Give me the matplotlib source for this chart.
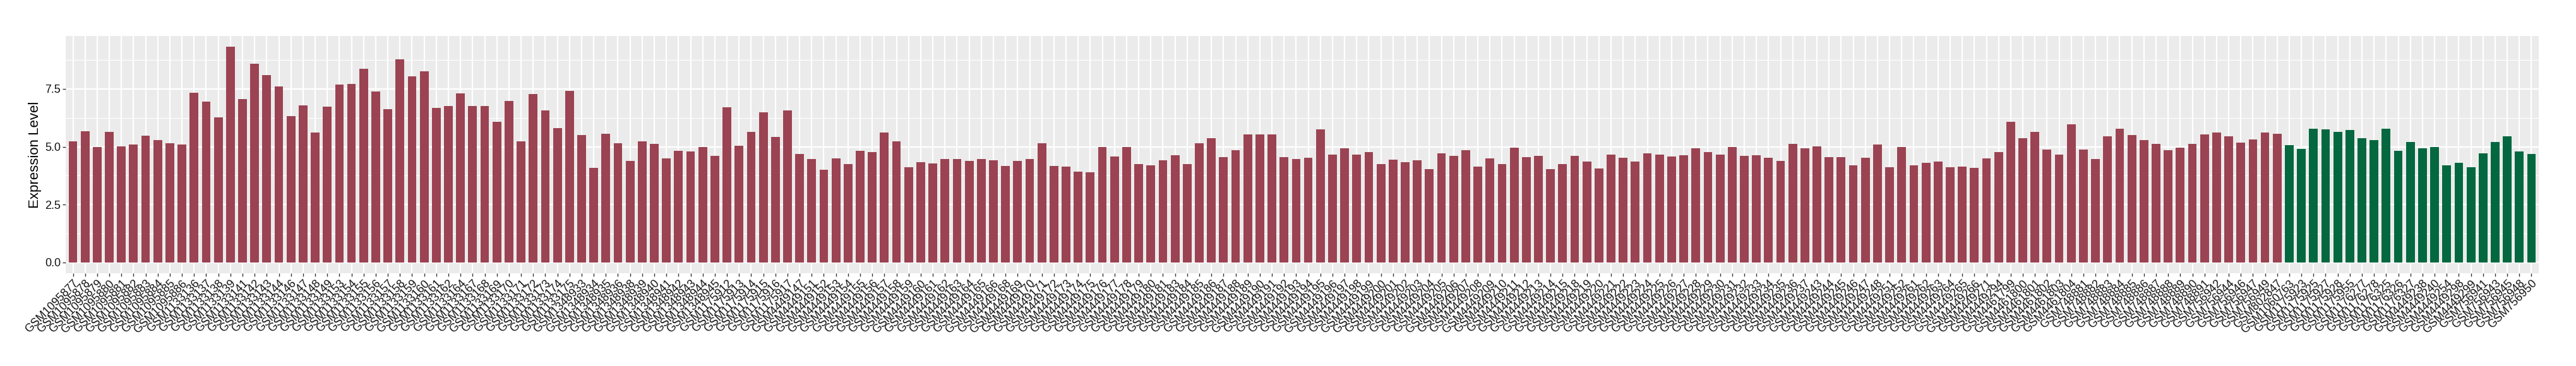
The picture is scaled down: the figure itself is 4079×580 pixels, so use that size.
import matplotlib
matplotlib.use("Agg")
import matplotlib.pyplot as plt
import numpy as np
from matplotlib.ticker import MultipleLocator

plt.rcParams['font.family'] = ['Liberation Sans', 'DejaVu Sans']

# sample ids (x categories), in plotted order
tumor_samples = [
    "GSM1095877", "GSM1095878", "GSM1095879", "GSM1095880", "GSM1095881",
    "GSM1095882", "GSM1095883", "GSM1095884", "GSM1095885", "GSM1095886",
    "GSM1133136", "GSM1133137", "GSM1133138", "GSM1133139", "GSM1133141",
    "GSM1133142", "GSM1133143", "GSM1133144", "GSM1133146", "GSM1133147",
    "GSM1133148", "GSM1133149", "GSM1133153", "GSM1133154", "GSM1133155",
    "GSM1133156", "GSM1133157", "GSM1133158", "GSM1133159", "GSM1133160",
    "GSM1133161", "GSM1133162", "GSM1133164", "GSM1133167", "GSM1133168",
    "GSM1133169", "GSM1133170", "GSM1133171", "GSM1133172", "GSM1133173",
    "GSM1133174", "GSM1133175",
    "GSM1348933", "GSM1348934", "GSM1348935", "GSM1348936", "GSM1348938",
    "GSM1348939", "GSM1348940", "GSM1348941", "GSM1348942", "GSM1348943",
    "GSM1348944", "GSM1348945",
    "GSM1175912", "GSM1175913", "GSM1175914", "GSM1175915", "GSM1175916",
    "GSM1175917",
    "GSM4449147", "GSM4449151", "GSM4449152", "GSM4449153", "GSM4449154",
    "GSM4449155", "GSM4449156", "GSM4449157", "GSM4449158", "GSM4449159",
    "GSM4449160", "GSM4449161", "GSM4449162", "GSM4449163", "GSM4449164",
    "GSM4449165", "GSM4449166", "GSM4449168", "GSM4449169", "GSM4449170",
    "GSM4449171", "GSM4449172", "GSM4449173", "GSM4449174", "GSM4449175",
    "GSM4449176", "GSM4449177", "GSM4449178", "GSM4449179", "GSM4449180",
    "GSM4449181", "GSM4449183", "GSM4449184", "GSM4449185", "GSM4449186",
    "GSM4449187", "GSM4449188", "GSM4449189", "GSM4449190", "GSM4449191",
    "GSM4449192", "GSM4449193", "GSM4449194", "GSM4449195", "GSM4449196",
    "GSM4449197", "GSM4449198", "GSM4449199", "GSM4449200", "GSM4449201",
    "GSM4449202", "GSM4449203", "GSM4449204", "GSM4449205", "GSM4449206",
    "GSM4449207", "GSM4449208", "GSM4449209", "GSM4449210", "GSM4449211",
    "GSM4449212", "GSM4449213", "GSM4449214", "GSM4449215", "GSM4449218",
    "GSM4449219", "GSM4449220", "GSM4449221", "GSM4449222", "GSM4449223",
    "GSM4449224", "GSM4449225", "GSM4449226", "GSM4449227", "GSM4449228",
    "GSM4449229", "GSM4449230", "GSM4449231", "GSM4449232", "GSM4449233",
    "GSM4449234", "GSM4449235", "GSM4449236", "GSM4449237", "GSM4449243",
    "GSM4449244", "GSM4449245", "GSM4449246", "GSM4449247", "GSM4449248",
    "GSM4449251", "GSM4449252", "GSM4449261", "GSM4449262", "GSM4449263",
    "GSM4449264", "GSM4449265", "GSM4449266", "GSM4449271", "GSM4449294",
    "GSM4461799", "GSM4461800", "GSM4461801", "GSM4461802", "GSM4461803",
    "GSM4461804",
    "GSM748881", "GSM748882", "GSM748883", "GSM748884", "GSM748885",
    "GSM748886", "GSM748887", "GSM748888", "GSM748889", "GSM748890",
    "GSM748891",
    "GSM756942", "GSM756944", "GSM756946", "GSM756947", "GSM756949",
    "GSM802847",
]

tumor_values = [
    5.23, 5.68, 4.99, 5.65, 5.02, 5.10, 5.48, 5.29, 5.15, 5.10,
    7.34, 6.96, 6.27, 9.32, 7.07, 8.59, 8.09, 7.61, 6.33, 6.79,
    5.61, 6.73, 7.69, 7.72, 8.37, 7.39, 6.63, 8.78, 8.05, 8.26,
    6.68, 6.76, 7.30, 6.76, 6.76, 6.08, 6.98, 5.24, 7.27, 6.57,
    5.81, 7.42,
    5.51, 4.09, 5.56, 5.15, 4.39, 5.24, 5.12, 4.49, 4.82, 4.79,
    4.99, 4.61,
    6.71, 5.04, 5.64, 6.48, 5.42, 6.57,
    4.69, 4.46, 4.00, 4.49, 4.25, 4.82, 4.76, 5.61, 5.24, 4.12,
    4.33, 4.28, 4.46, 4.46, 4.39, 4.46, 4.42, 4.16, 4.39, 4.46,
    5.15, 4.16, 4.14, 3.92, 3.89, 4.99, 4.58, 4.99, 4.25, 4.19,
    4.42, 4.63, 4.25, 5.15, 5.37, 4.55, 4.85, 5.54, 5.54, 5.54,
    4.55, 4.46, 4.52, 5.75, 4.66, 4.93, 4.66, 4.76, 4.25, 4.45,
    4.33, 4.42, 4.03, 4.72, 4.61, 4.85, 4.14, 4.49, 4.25, 4.96,
    4.55, 4.61, 4.03, 4.25, 4.61, 4.36, 4.06, 4.66, 4.52, 4.36,
    4.72, 4.66, 4.58, 4.63, 4.93, 4.76, 4.66, 4.99, 4.61, 4.63,
    4.52, 4.39, 5.12, 4.93, 5.01, 4.55, 4.55, 4.19, 4.52, 5.09,
    4.12, 4.99, 4.19, 4.30, 4.36, 4.12, 4.14, 4.09, 4.49, 4.76,
    6.08, 5.37, 5.64, 4.88, 4.66, 5.97,
    4.88, 4.46, 5.45, 5.78, 5.51, 5.30, 5.12, 4.86, 4.96, 5.13,
    5.53,
    5.61, 5.45, 5.18, 5.32, 5.61,
    5.56,
]

normal_samples = [
    "GSM1060763", "GSM1175923", "GSM1175925", "GSM1175927", "GSM1175928",
    "GSM1175955", "GSM1176277", "GSM1176278", "GSM1176325", "GSM1176326",
    "GSM1176327", "GSM4449238", "GSM4449240", "GSM4449254", "GSM4449298",
    "GSM4449299", "GSM756941", "GSM756943", "GSM756945", "GSM756948",
    "GSM756950",
]

normal_values = [
    5.07, 4.91, 5.78, 5.76, 5.65, 5.73, 5.37, 5.29, 5.78, 4.83,
    5.21, 4.94, 4.99, 4.20, 4.31, 4.12, 4.72, 5.21, 5.45, 4.80,
    4.69,
]

tumor_color = '#9B4352'
normal_color = '#03683F'

samples = tumor_samples + normal_samples
values = np.array(tumor_values + normal_values)
colors = [tumor_color] * len(tumor_samples) + [normal_color] * len(normal_samples)
x = np.arange(len(samples))

fig = plt.figure(figsize=(40.8, 5.8), dpi=100)
ax = fig.add_axes([104 / 4080, 1 - 433 / 580, (4020 - 104) / 4080, (433 - 57) / 580])

ax.set_facecolor('#EBEBEB')
ax.bar(x, values, width=0.72, color=colors, zorder=3)

# ggplot-like limits and grid
ymax = values.max()
ax.set_xlim(-0.6, len(samples) - 1 + 0.6)
ax.set_ylim(-0.05 * ymax, ymax * 1.05)
ax.yaxis.set_minor_locator(MultipleLocator(1.25))
ax.set_yticks([0, 2.5, 5.0, 7.5])
ax.set_yticklabels(['0.0', '2.5', '5.0', '7.5'])
ax.grid(which='major', color='white', linewidth=1.6, zorder=0)
ax.grid(which='minor', axis='y', color='white', linewidth=0.8, zorder=0)
ax.set_axisbelow(True)

ax.set_xticks(x)
ax.set_xticklabels(samples, rotation=45, ha='right', rotation_mode='anchor',
                   fontsize=13, color='#111111')
ax.tick_params(axis='y', which='major', labelsize=13, labelcolor='#111111',
               color='#333333', length=3.5, width=1, pad=2)
ax.tick_params(axis='y', which='minor', length=0)
ax.tick_params(axis='x', color='#333333', length=3.5, width=1, pad=2)

for spine in ax.spines.values():
    spine.set_visible(False)

ax.set_ylabel('Expression Level', fontsize=16, labelpad=4)

fig.savefig('out.png', dpi=100)
